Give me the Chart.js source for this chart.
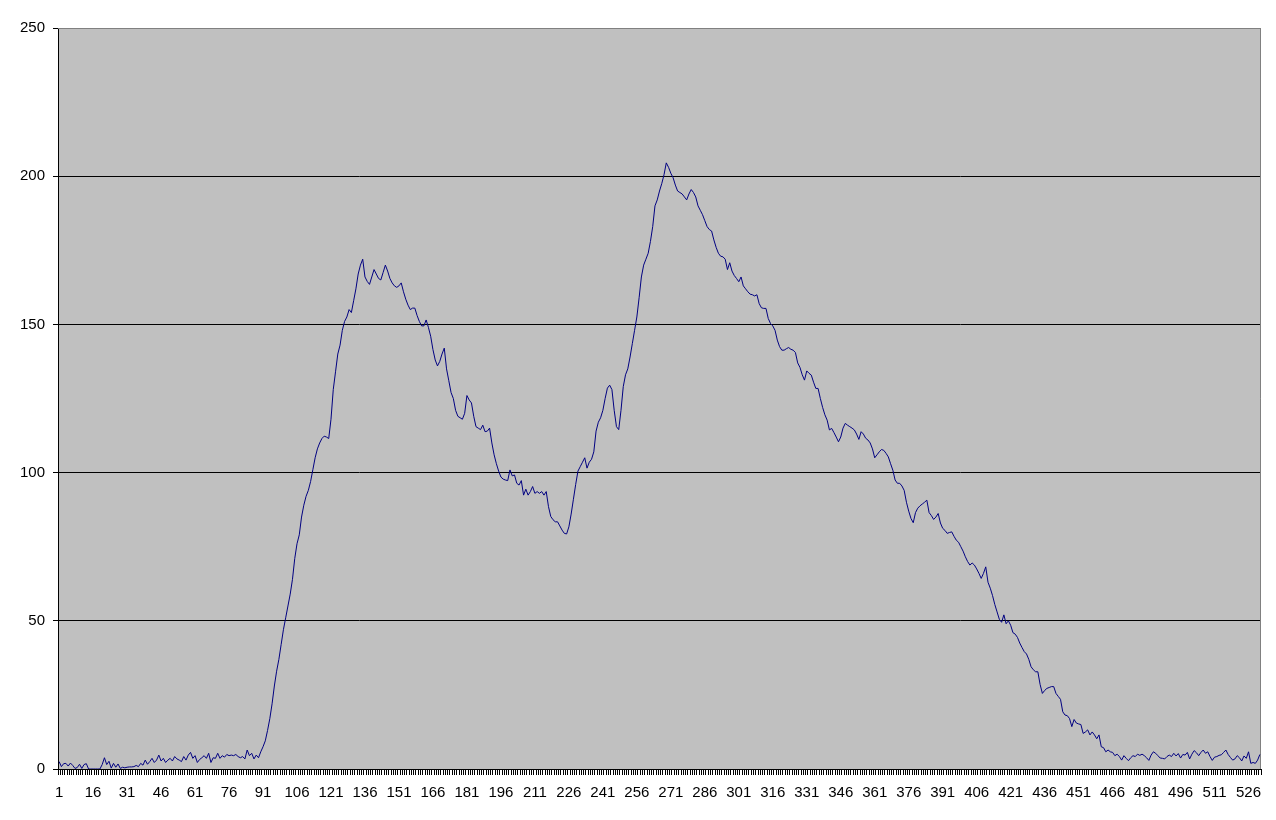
<!DOCTYPE html>
<html>
<head>
<meta charset="utf-8">
<script src="https://cdn.jsdelivr.net/npm/chart.js@4.4.1/dist/chart.umd.min.js"></script>
<style>
  html, body { margin: 0; padding: 0; background: #fff; }
  #wrap { width: 1276px; height: 820px; }
</style>
</head>
<body>
<div id="wrap"><canvas id="myChart" width="1276" height="820"></canvas></div>
<script>
// values, one per category (1..531)
const values = [
    2.5, 0.8, 1.8, 1.9, 1.0, 2.0, 1.2, 0.2, 0.5, 1.6,
    0.2, 1.5, 1.8, 0, 0, 0, 0, 0, 0, 1.5,
    3.8, 1.5, 2.6, 0.3, 1.9, 0.6, 1.7, 0.2, 0.6, 0.4,
    0.6, 0.7, 0.7, 0.8, 1.2, 0.8, 1.9, 1.3, 3.0, 1.6,
    2.5, 3.6, 2.2, 3.0, 4.7, 2.7, 3.6, 2.2, 3.0, 3.6,
    2.7, 4.2, 3.4, 3.0, 2.5, 4.2, 3.0, 4.7, 5.6, 3.6,
    4.5, 2.2, 3.2, 3.8, 4.5, 3.6, 5.3, 2.2, 3.8, 3.6,
    5.3, 3.6, 4.5, 4.0, 4.9, 4.5, 4.7, 4.5, 4.9, 4.2,
    3.8, 4.2, 3.4, 6.4, 4.5, 5.3, 3.4, 4.7, 3.8, 5.8,
    7.5, 9.5, 13, 17, 22, 28, 33, 37, 42, 47,
    51, 55, 59, 64, 71, 76, 79, 85, 89, 92,
    94, 97, 101, 105, 108, 110, 111.5, 112.3, 112, 111.5,
    118, 128, 134, 140, 143, 148, 151, 152.5, 155, 154,
    158, 162, 167, 170, 172, 166, 164.5, 163.5, 166, 168.5,
    167, 165.5, 165, 167.5, 170, 168, 165.5, 164, 163, 162.5,
    163, 164, 161, 158.5, 156.5, 155, 155.5, 155.5, 153, 151,
    149.5, 149.5, 151.5, 149, 146, 141.5, 138, 136, 137.5, 140,
    142, 135, 131, 127, 125, 121, 119, 118.5, 118, 120,
    126, 124.5, 123.5, 119, 115.5, 115, 114.5, 116, 113.8, 114,
    115, 110, 106, 103, 100.5, 98.5, 97.8, 97.5, 97.3, 100.9,
    98.9, 99.2, 96.4, 95.8, 97.3, 92.4, 94.4, 92.4, 93.6, 95.3,
    93, 93.6, 93, 93.6, 92.4, 93.6, 88.5, 85.2, 84.1, 83.4,
    83.4, 82, 80.6, 79.5, 79.3, 81.7, 86, 91, 96, 100.5,
    102, 103.5, 105, 101.5, 103.5, 104.5, 107, 114, 117, 118.5,
    121, 125, 128.5, 129.5, 128, 121, 115.5, 114.5, 121, 129,
    133, 135, 139, 143.5, 148, 152.5, 159, 166, 170, 172,
    174, 178, 183, 190, 192, 195, 197.5, 200.5, 204.5, 203,
    201, 199.5, 197, 195, 194.5, 194, 193, 192, 194, 195.5,
    194.5, 193, 190, 188.5, 187, 185, 183, 182, 181.5, 178.5,
    176, 174, 173, 172.8, 172, 168.5, 170.8, 168, 166.5, 165.5,
    164.4, 166, 163, 162, 161, 160.2, 160, 159.6, 160, 157,
    155.6, 155.4, 155.4, 152, 150.3, 149.5, 148, 144.7, 142.5, 141.3,
    141.3, 141.8, 142.2, 141.6, 141.3, 140.5, 137, 135.5, 133, 131.2,
    134.3, 133.5, 132.9, 130.5, 128.4, 128.4, 125, 122, 119.5, 117.7,
    114.4, 114.9, 113.5, 112, 110.4, 112, 115, 116.6, 116, 115.5,
    115, 114.4, 113, 111.2, 113.8, 113, 111.6, 111, 110, 108,
    105, 106, 107, 107.8, 107.5, 106.5, 105.3, 103, 100.8, 97.5,
    96.4, 96.4, 95.5, 94, 90, 87, 84.5, 83.1, 86.5, 88,
    88.8, 89.4, 90, 90.7, 86.5, 85.5, 84.2, 85, 86.2, 83,
    81.2, 80.5, 79.5, 79.8, 80, 78.5, 77.2, 76.5, 75, 73.5,
    71.6, 70, 68.8, 69.5, 68.8, 67.5, 66, 64.3, 66, 68.2,
    63, 61, 58.5, 55.5, 53, 50.5, 49.5, 52, 49, 50,
    48.5, 46, 45.5, 44.4, 42.5, 41, 39.6, 38.8, 37, 34.5,
    33.5, 32.8, 32.8, 28.5, 25.5, 26.5, 27.2, 27.5, 27.8, 27.8,
    25.5, 24.5, 23.5, 19.3, 18.2, 18, 17, 14.3, 16.7, 15.5,
    15.2, 15, 12, 12.5, 13.2, 11.5, 12.5, 11.5, 10.2, 11.5,
    7.5, 7.2, 5.8, 6.4, 5.8, 5.6, 4.5, 5.0, 4.2, 3.0,
    4.5, 3.6, 2.8, 3.8, 4.5, 4.2, 5.0, 4.6, 5.0, 4.5,
    3.8, 2.9, 4.7, 5.8, 5.3, 4.5, 3.7, 3.6, 3.4, 4.2,
    4.7, 4.2, 5.3, 4.4, 5.2, 3.7, 4.9, 4.7, 5.6, 3.4,
    5.0, 6.2, 5.5, 4.5, 5.6, 6.4, 5.3, 5.8, 4.2, 2.9,
    4.0, 4.2, 4.6, 4.8, 5.6, 6.4, 4.9, 3.9, 3.0, 3.4,
    4.5, 3.8, 2.7, 4.4, 3.6, 5.8, 1.9, 2.2, 1.9, 3.0,
    4.9
];

// categories are just 1, 2, 3 ... one per value
const categories = values.map((v, i) => String(i + 1));

// y axis ticks and how often an x label is shown
const yTicks = [0, 50, 100, 150, 200, 250];
const labelEvery = 15;

const tickFont = { family: "'Liberation Sans', Arial, sans-serif", size: 15 };

// grey plot area with the Excel-style border
const plotBg = {
    id: 'plotBg',
    beforeDraw(chart) {
        const { ctx, chartArea: a } = chart;
        ctx.save();
        ctx.fillStyle = '#c0c0c0';
        ctx.fillRect(a.left, a.top, a.right - a.left, a.bottom - a.top);
        ctx.restore();
    },
    beforeDatasetsDraw(chart) {
        const { ctx, chartArea: a } = chart;
        ctx.save();
        ctx.strokeStyle = '#808080';
        ctx.lineWidth = 1;
        ctx.beginPath();
        ctx.moveTo(a.left, a.top + 0.5);
        ctx.lineTo(a.right - 0.5, a.top + 0.5);
        ctx.lineTo(a.right - 0.5, a.bottom);
        ctx.stroke();
        ctx.restore();
    }
};

const ctx = document.querySelector("#myChart").getContext("2d");
new Chart(ctx, {
    type: 'line',
    data: {
        labels: categories,
        datasets: [{
            data: values,
            borderColor: '#000080',
            borderWidth: 1,
            pointRadius: 0,
            fill: false,
            tension: 0
        }]
    },
    options: {
        responsive: false,
        animation: false,
        layout: { padding: { top: 28, right: 15, left: 0, bottom: 0 } },
        plugins: {
            legend: { display: false },
            tooltip: { enabled: false }
        },
        scales: {
            x: {
                type: 'category',
                offset: true,
                grid: {
                    offset: true,
                    drawOnChartArea: false,
                    drawTicks: true,
                    tickLength: 6,
                    color: '#000',
                    tickColor: '#000'
                },
                border: { color: '#000', width: 1 },
                ticks: {
                    autoSkip: false,
                    maxRotation: 0,
                    minRotation: 0,
                    padding: 9,
                    color: '#000',
                    font: tickFont,
                    callback: function (v, i) {
                        return i % labelEvery === 0 ? this.getLabelForValue(v) : '';
                    }
                },
                afterFit(s) { s.height = 51; }
            },
            y: {
                min: yTicks[0],
                max: yTicks[yTicks.length - 1],
                afterBuildTicks(s) { s.ticks = yTicks.map(v => ({ value: v })); },
                grid: {
                    color: c => (c.tick && c.tick.value === 250) ? '#808080' : '#000',
                    tickColor: '#000',
                    tickLength: 5,
                    lineWidth: 1
                },
                border: { color: '#000', width: 1 },
                ticks: {
                    padding: 8,
                    color: '#000',
                    font: tickFont
                },
                afterFit(s) { s.width = 58; }
            }
        }
    },
    plugins: [plotBg]
});
</script>
</body>
</html>
